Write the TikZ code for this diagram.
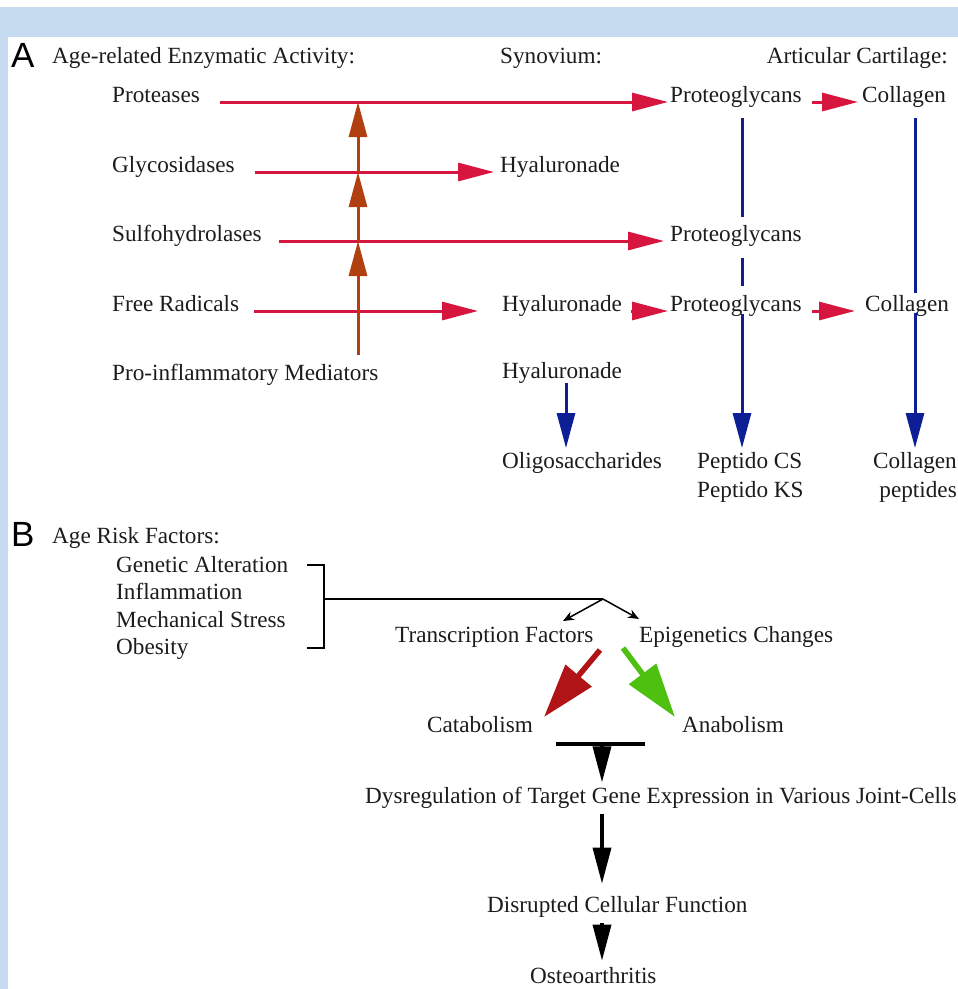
\documentclass[tikz,border=0pt]{standalone}
\usepackage{fontspec}
\setmainfont{Liberation Serif}
\newfontfamily\panelfont{Liberation Sans}
\usetikzlibrary{arrows.meta}
\definecolor{bgblue}{RGB}{198,218,240}
\definecolor{redA}{RGB}{214,22,62}
\definecolor{brownA}{RGB}{176,64,16}
\definecolor{blueA}{RGB}{14,30,148}
\definecolor{catred}{RGB}{176,20,22}
\definecolor{anagreen}{RGB}{78,192,16}
\definecolor{txt}{RGB}{28,28,28}
\begin{document}
\begin{tikzpicture}[x=1pt,y=-1pt,
  lbl/.style={inner sep=0pt, anchor=base west, font=\fontsize{23.2}{27}\selectfont, text=txt},
  lblr/.style={lbl, anchor=base east},
  panel/.style={inner sep=0pt, anchor=base west, font=\panelfont\fontsize{35}{38}\selectfont, text=black},
  redarr/.style={draw=redA, line width=3pt, -{Triangle[length=36pt,width=18pt]}},
  brownarr/.style={draw=brownA, line width=3pt, -{Triangle[length=35pt,width=18pt]}},
  blueline/.style={draw=blueA, line width=3pt},
  bluearr/.style={blueline, -{Triangle[length=35pt,width=18pt]}},
  blackarr/.style={draw=black, line width=3.5pt, -{Triangle[length=36pt,width=18pt]}},
  thinarr/.style={draw=black, line width=1.5pt, -{Stealth[length=11pt,width=9pt]}},
  bigarr/.style={line width=5.5pt, -{Triangle[length=54pt,width=33pt]}}
]
\fill[white] (0,0) rectangle (958,989);
\fill[bgblue] (0,7) rectangle (958,37);
\fill[bgblue] (0,7) rectangle (8,989);
\useasboundingbox (0,0) rectangle (958,989);

% ---------------- Panel A ----------------
\node[panel] (pA) at (11,67) {A};
\node[lbl] (hA) at (52,63) {Age-related Enzymatic Activity:};
\node[lbl] (hSyn) at (500,63) {Synovium:};
\node[lblr] (hArt) at (948,63) {Articular Cartilage:};
\node[lbl] (prot) at (112,102) {Proteases};
\node[lbl] (glyc) at (112,172) {Glycosidases};
\node[lbl] (sulf) at (112,241) {Sulfohydrolases};
\node[lbl] (frad) at (112,311) {Free Radicals};
\node[lbl] (pim) at (112,380) {Pro-inflammatory Mediators};
\node[lbl] (pg1) at (670,102) {Proteoglycans};
\node[lbl] (col1) at (862,102) {Collagen};
\node[lbl] (hy2) at (500,172) {Hyaluronade};
\node[lbl] (pg3) at (670,241) {Proteoglycans};
\node[lbl] (hy4) at (502,311) {Hyaluronade};
\node[lbl] (pg4) at (670,311) {Proteoglycans};
\node[lbl] (col4) at (865,311) {Collagen};
\node[lbl] (hy5) at (502,378) {Hyaluronade};
\node[lbl] (olig) at (502,468) {Oligosaccharides};
\node[lbl] (pcs) at (697,468) {Peptido CS};
\node[lbl] (pks) at (697,497) {Peptido KS};
\node[lblr] (colp) at (957,468) {Collagen};
\node[lblr] (pept) at (957,497) {peptides};

% red arrows
\draw[redarr] ([xshift=20pt]prot.base east) -- ([xshift=-2pt]pg1.base west);
\draw[redarr] ([xshift=20pt]glyc.base east) -- ([xshift=-6pt]hy2.base west);
\draw[redarr] ([xshift=17pt]sulf.base east) -- ([xshift=-6pt]pg3.base west);
\draw[redarr] ([xshift=15pt]frad.base east) -- ([xshift=-24pt]hy4.base west);
\draw[redarr] ([xshift=9pt]hy4.base east) -- ([xshift=-2pt]pg4.base west);
\draw[redarr] ([xshift=10pt]pg1.base east) -- ([xshift=-4pt]col1.base west);
\draw[redarr] ([xshift=10pt]pg4.base east) -- ([xshift=-10pt]col4.base west);

% brown arrows
\coordinate (br0) at (358,355);
\draw[brownarr] (br0) -- (br0 |- sulf.base);
\draw[brownarr] (br0 |- sulf.base) -- (br0 |- glyc.base);
\draw[brownarr] (br0 |- glyc.base) -- (br0 |- prot.base);

% blue lines
\coordinate (pgA) at (742,118);
\coordinate (pgB) at (742,217);
\coordinate (pgC) at (742,258);
\coordinate (pgD) at (742,286);
\coordinate (pgE) at (742,314);
\coordinate (pgT) at (742,448);
\draw[blueline] (pgA) -- (pgB);
\draw[blueline] (pgC) -- (pgD);
\draw[bluearr] (pgE) -- (pgT);
\coordinate (coA) at (915,118);
\coordinate (coB) at (915,293);
\coordinate (coC) at (915,313);
\coordinate (coT) at (915,448);
\draw[blueline] (coA) -- (coB);
\draw[bluearr] (coC) -- (coT);
\coordinate (hyA) at (566,383);
\coordinate (hyT) at (566,448);
\draw[bluearr] (hyA) -- (hyT);

% ---------------- Panel B ----------------
\node[panel] (pB) at (11,546) {B};
\node[lbl] (hB) at (52,543) {Age Risk Factors:};
\node[lbl] (gen) at (116,572) {Genetic Alteration};
\node[lbl] (inf) at (116,599) {Inflammation};
\node[lbl] (mec) at (116,627) {Mechanical Stress};
\node[lbl] (obe) at (116,654) {Obesity};
\node[lbl] (tf) at (395,642) {Transcription Factors};
\node[lbl] (epi) at (639,642) {Epigenetics Changes};
\node[lbl] (cat) at (427,732) {Catabolism};
\node[lbl] (ana) at (682,732) {Anabolism};
\node[lbl] (dys) at (365,803) {Dysregulation of Target Gene Expression in Various Joint-Cells};
\node[lbl] (dcf) at (487,912) {Disrupted Cellular Function};
\node[lbl] (oa) at (530,983) {Osteoarthritis};

% bracket and split
\draw[black, line width=1.8pt] (307,565) -- (324,565) -- (324,648) -- (307,648);
\coordinate (brk) at (324,599);
\coordinate (peak) at (603,599);
\draw[black, line width=1.5pt] (brk) -- (peak);
\coordinate (tfT) at (563,621);
\coordinate (epT) at (639,619);
\draw[thinarr] (peak) -- (tfT);
\draw[thinarr] (peak) -- (epT);

% big coloured arrows
\coordinate (catS) at (600,650);
\coordinate (catT) at (544,717);
\coordinate (anaS) at (623,648);
\coordinate (anaT) at (675,717);
\draw[bigarr, draw=catred] (catS) -- (catT);
\draw[bigarr, draw=anagreen] (anaS) -- (anaT);

% T bar and vertical arrows
\coordinate (tbL) at (556,744);
\coordinate (tbR) at (645,744);
\coordinate (tbM) at (602,744);
\draw[black, line width=4pt] (tbL) -- (tbR);
\draw[blackarr] (tbM) -- ([yshift=4pt]tbM |- dys.north);
\draw[blackarr] ([yshift=-6pt]tbM |- dys.south) -- ([yshift=12pt]tbM |- dcf.north);
\draw[blackarr] ([yshift=-6pt]tbM |- dcf.south) -- ([yshift=6pt]tbM |- oa.north);
\end{tikzpicture}
\end{document}
